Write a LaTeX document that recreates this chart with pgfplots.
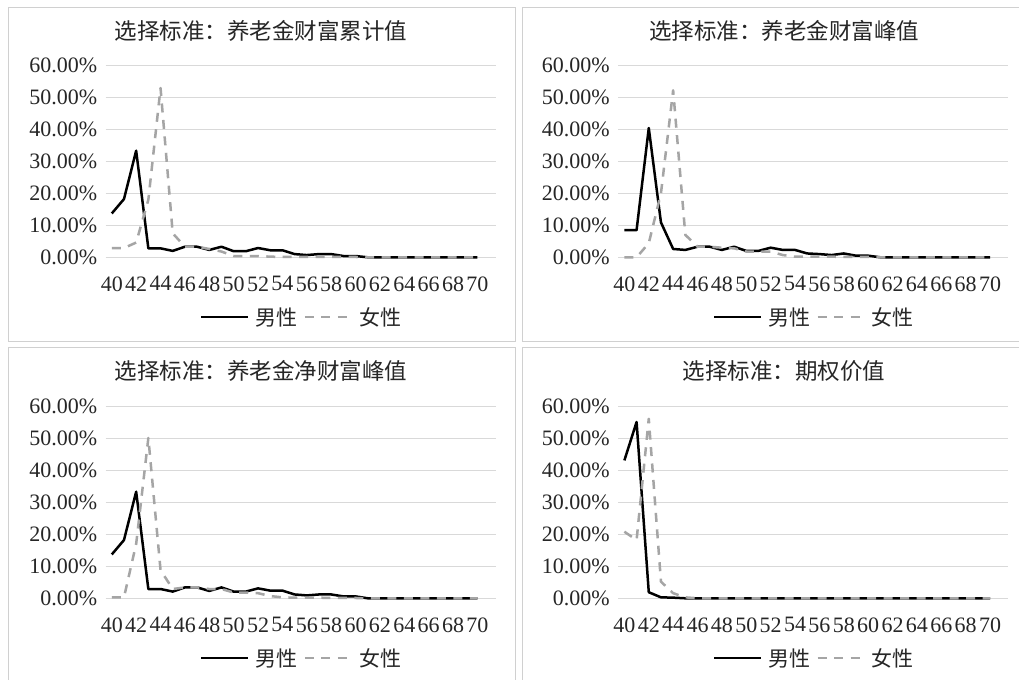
\documentclass[border=0pt]{standalone}
\usepackage{pgfplots}
\usepackage{pgfplotstable}
\pgfplotsset{compat=1.18}
\usepackage{fontspec}
\setmainfont{Liberation Serif}
\newfontfamily\cjk{Noto Sans CJK SC}
\definecolor{gridc}{HTML}{D9D9D9}
\definecolor{femc}{HTML}{A5A5A5}
\definecolor{bordc}{HTML}{D0D0D0}
\definecolor{txtc}{HTML}{262626}

\pgfplotstableread{
x m f
40 13.7 2.9
41 18.2 2.9
42 33.3 4.6
43 2.8 18.0
44 2.8 52.9
45 2.0 7.5
46 3.3 3.3
47 3.3 3.3
48 2.3 2.6
49 3.3 1.8
50 1.9 0.4
51 1.9 0.4
52 2.9 0.4
53 2.2 0.2
54 2.2 0.1
55 1.0 0.1
56 0.7 0.1
57 1.0 0.1
58 1.0 0.1
59 0.4 0.1
60 0.4 0.1
61 0 0
62 0 0
63 0 0
64 0 0
65 0 0
66 0 0
67 0 0
68 0 0
69 0 0
70 0 0
}\tA

\pgfplotstableread{
x m f
40 8.5 0
41 8.5 0
42 40.4 4.4
43 10.9 20.0
44 2.6 52.2
45 2.3 7.0
46 3.3 3.3
47 3.3 3.3
48 2.3 3.0
49 3.3 2.8
50 2.0 1.8
51 2.0 1.8
52 3.0 1.8
53 2.3 0.7
54 2.3 0.2
55 1.2 0.2
56 1.0 0.2
57 0.7 0.2
58 1.2 0.1
59 0.5 0.1
60 0.5 0.1
61 0 0
62 0 0
63 0 0
64 0 0
65 0 0
66 0 0
67 0 0
68 0 0
69 0 0
70 0 0
}\tB

\pgfplotstableread{
x m f
40 13.7 0.3
41 18.2 0.3
42 33.3 17.0
43 2.9 50.1
44 2.9 8.8
45 2.1 2.9
46 3.4 3.4
47 3.4 3.4
48 2.3 2.9
49 3.4 2.9
50 2.1 1.8
51 2.1 1.8
52 3.1 1.6
53 2.4 0.7
54 2.4 0.3
55 1.2 0.2
56 0.9 0.2
57 1.2 0.2
58 1.2 0.1
59 0.6 0.1
60 0.6 0.1
61 0 0
62 0 0
63 0 0
64 0 0
65 0 0
66 0 0
67 0 0
68 0 0
69 0 0
70 0 0
}\tC

\pgfplotstableread{
x m f
40 43.1 20.8
41 55.1 18.2
42 1.9 56.1
43 0.3 5.2
44 0.2 1.6
45 0 0.3
46 0 0
47 0 0
48 0 0
49 0 0
50 0 0
51 0 0
52 0 0
53 0 0
54 0 0
55 0 0
56 0 0
57 0 0
58 0 0
59 0 0
60 0 0
61 0 0
62 0 0
63 0 0
64 0 0
65 0 0
66 0 0
67 0 0
68 0 0
69 0 0
70 0 0
}\tD

\pgfplotsset{
  panel/.style={
    scale only axis,
    anchor=south west,
    width=390bp, height=192bp,
    xmin=39.5, xmax=71.5, ymin=0, ymax=60,
    xtick={40,42,...,70}, ytick={0,10,...,60},
    axis line style={draw=none},
    major tick length=0pt,
    ymajorgrids,
    grid style={color=gridc, line width=1bp},
    /pgf/number format/assume math mode=true,
    tick label style={font=\fontsize{22bp}{22bp}\selectfont, text=txtc, inner sep=0pt},
    yticklabel={\pgfmathprintnumber[fixed,fixed zerofill,precision=2]{\tick}\%},
    yticklabel style={xshift=-8.4bp},
    xticklabel style={anchor=north, yshift=-19bp},
    clip=false,
    legend columns=2,
    legend style={draw=none, fill=none, at={(0.5,-0.311)}, anchor=center,
      font=\cjk\fontsize{21bp}{21bp}\selectfont, text=txtc,
      nodes={inner sep=0pt},
      /tikz/every odd column/.append style={column sep=6bp},
      /tikz/every even column/.append style={column sep=6bp}},
    legend image code/.code={\draw[##1] (0bp,0bp) -- (47bp,0bp);},
  },
  male/.style={black, line width=2.5bp, line join=round, no marks},
  fem/.style={femc, line width=2.5bp, dash pattern=on 9bp off 7.5bp, line join=round, no marks},
}

\begin{document}
\begin{tikzpicture}
\useasboundingbox (0,0) rectangle (1019bp,680bp);
\fill[white] (0,0) rectangle (1019bp,680bp);
% panel borders
\draw[bordc, line width=1bp] (8bp,338bp) rectangle (515bp,672bp);
\draw[bordc, line width=1bp] (522bp,338bp) rectangle (1040bp,672bp);
\draw[bordc, line width=1bp] (8bp,-20bp) rectangle (515bp,332bp);
\draw[bordc, line width=1bp] (522bp,-20bp) rectangle (1040bp,332bp);
% titles
\begin{scope}[every node/.style={font=\cjk\fontsize{22.5bp}{22.5bp}\selectfont, text=txtc}]
\node at (261bp,649bp) {选择标准：养老金财富累计值};
\node at (784bp,649bp) {选择标准：养老金财富峰值};
\node at (261bp,309bp) {选择标准：养老金净财富峰值};
\node at (784bp,309bp) {选择标准：期权价值};
\end{scope}

\begin{axis}[panel, at={(105.7bp,422.7bp)}]
\addplot[male] table[x=x,y=m]{\tA};
\addplot[fem] table[x=x,y=f]{\tA};
\legend{男性,女性}
\end{axis}

\begin{axis}[panel, at={(618.3bp,422.7bp)}]
\addplot[male] table[x=x,y=m]{\tB};
\addplot[fem] table[x=x,y=f]{\tB};
\legend{男性,女性}
\end{axis}

\begin{axis}[panel, at={(105.7bp,81.7bp)}]
\addplot[male] table[x=x,y=m]{\tC};
\addplot[fem] table[x=x,y=f]{\tC};
\legend{男性,女性}
\end{axis}

\begin{axis}[panel, at={(618.3bp,81.7bp)}]
\addplot[male] table[x=x,y=m]{\tD};
\addplot[fem] table[x=x,y=f]{\tD};
\legend{男性,女性}
\end{axis}
\end{tikzpicture}
\end{document}
